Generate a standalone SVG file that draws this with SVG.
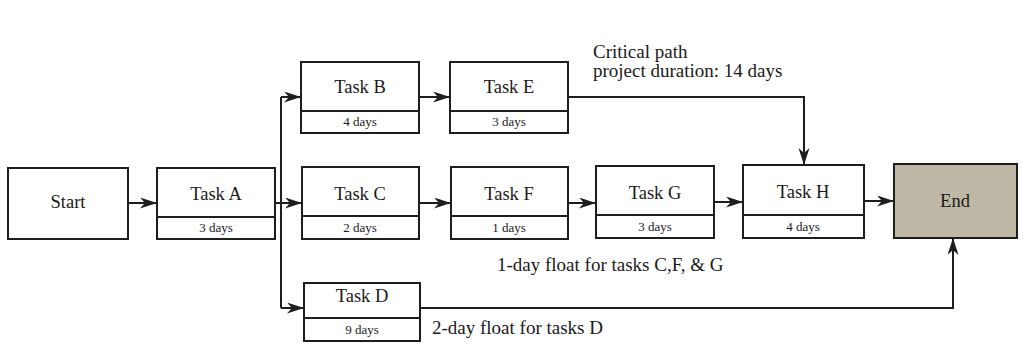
<svg xmlns="http://www.w3.org/2000/svg" width="1023" height="345" viewBox="0 0 1023 345">
<style>
.box{fill:#fff;stroke:#1e1e1e;stroke-width:2}
.end{fill:#bfb8a6;stroke:#1e1e1e;stroke-width:2}
.div{stroke:#1e1e1e;stroke-width:2}
.t{font-family:"Liberation Serif",serif;font-size:18.5px;fill:#1a1a1a;text-anchor:middle}
.d{font-family:"Liberation Serif",serif;font-size:13px;fill:#1a1a1a;text-anchor:middle}
.a{font-family:"Liberation Serif",serif;font-size:19px;fill:#1a1a1a}
.c{fill:none;stroke:#1e1e1e;stroke-width:2}
</style>
<defs>
<marker id="ah" markerUnits="userSpaceOnUse" markerWidth="18" markerHeight="12" refX="17" refY="5.5" orient="auto">
<path d="M0,0 L17,5.5 L0,11 L5,5.5 Z" fill="#1e1e1e"/>
</marker>
</defs>
<rect width="1023" height="345" fill="#fff"/>
<g id="connectors">
<path class="c" d="M128,203 H157" marker-end="url(#ah)"/>
<path class="c" d="M275,203 H302" marker-end="url(#ah)"/>
<path class="c" d="M281,97 V308"/>
<path class="c" d="M281,97 H301" marker-end="url(#ah)"/>
<path class="c" d="M281,308 H304" marker-end="url(#ah)"/>
<path class="c" d="M419,97 H450" marker-end="url(#ah)"/>
<path class="c" d="M568,97 H804 V165" marker-end="url(#ah)"/>
<path class="c" d="M419,203 H451" marker-end="url(#ah)"/>
<path class="c" d="M568,203 H596" marker-end="url(#ah)"/>
<path class="c" d="M714,202 H743" marker-end="url(#ah)"/>
<path class="c" d="M864,201 H894" marker-end="url(#ah)"/>
<path class="c" d="M420,308 H953 V238" marker-end="url(#ah)"/>
</g>
<g id="start">
<rect class="box" x="8" y="168" width="120" height="71"/>
<text class="t" x="68" y="208">Start</text>
</g>
<g id="taskA">
<rect class="box" x="157" y="168" width="118" height="71"/>
<line class="div" x1="157" y1="217" x2="275" y2="217"/>
<text class="t" x="216" y="200">Task A</text>
<text class="d" x="216" y="232">3 days</text>
</g>
<g id="taskB">
<rect class="box" x="301" y="62" width="118" height="71"/>
<line class="div" x1="301" y1="111" x2="419" y2="111"/>
<text class="t" x="360" y="93">Task B</text>
<text class="d" x="360" y="126">4 days</text>
</g>
<g id="taskE">
<rect class="box" x="450" y="62" width="118" height="71"/>
<line class="div" x1="450" y1="111" x2="568" y2="111"/>
<text class="t" x="509" y="93">Task E</text>
<text class="d" x="509" y="126">3 days</text>
</g>
<g id="taskC">
<rect class="box" x="302" y="167" width="117" height="72"/>
<line class="div" x1="302" y1="216" x2="419" y2="216"/>
<text class="t" x="360" y="200">Task C</text>
<text class="d" x="360" y="232">2 days</text>
</g>
<g id="taskF">
<rect class="box" x="451" y="167" width="117" height="72"/>
<line class="div" x1="451" y1="216" x2="568" y2="216"/>
<text class="t" x="509" y="200">Task F</text>
<text class="d" x="509" y="232">1 days</text>
</g>
<g id="taskG">
<rect class="box" x="596" y="166" width="118" height="72"/>
<line class="div" x1="596" y1="215" x2="714" y2="215"/>
<text class="t" x="655" y="199">Task G</text>
<text class="d" x="655" y="231">3 days</text>
</g>
<g id="taskH">
<rect class="box" x="743" y="165" width="121" height="73"/>
<line class="div" x1="743" y1="215" x2="864" y2="215"/>
<text class="t" x="803" y="198">Task H</text>
<text class="d" x="803" y="231">4 days</text>
</g>
<g id="end">
<rect class="end" x="894" y="164" width="123" height="74"/>
<text class="t" x="955" y="207">End</text>
</g>
<g id="taskD">
<rect class="box" x="304" y="283" width="116" height="58"/>
<line class="div" x1="304" y1="318" x2="420" y2="318"/>
<text class="t" x="362" y="302">Task D</text>
<text class="d" x="362" y="334">9 days</text>
</g>
<g id="annotations">
<text class="a" x="593" y="58">Critical path</text>
<text class="a" x="593" y="77">project duration: 14 days</text>
<text class="a" x="497" y="271">1-day float for tasks C,F, &amp; G</text>
<text class="a" x="432" y="334">2-day float for tasks D</text>
</g>
</svg>
